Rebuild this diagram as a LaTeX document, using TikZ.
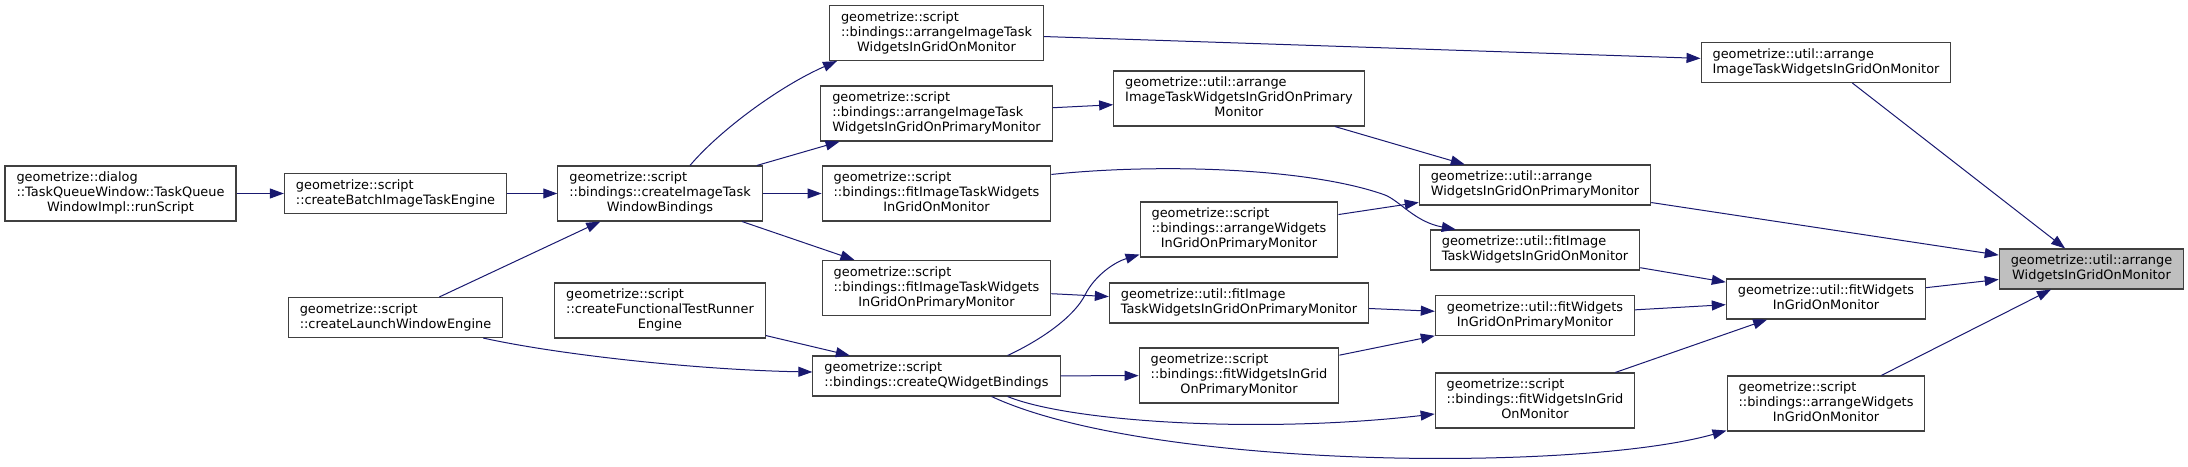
\documentclass[tikz,border=0pt]{standalone}
\usepackage{fontspec}
\setmainfont{DejaVu Sans}
\usetikzlibrary{arrows.meta,positioning,calc}
\definecolor{edgeblue}{HTML}{191970}
\definecolor{boxline}{HTML}{404040}
\definecolor{curfill}{HTML}{BFBFBF}
\newcommand{\fnlines}[2]{\begin{tabular}{@{}l@{}}#1\\\multicolumn{1}{@{}c@{}}{#2}\end{tabular}}
\tikzset{
  fnblk/.style={draw=boxline,fill=white,line width=1.1pt,rectangle,inner xsep=11.5pt,inner ysep=5pt,font=\fontsize{12.9}{15}\selectfont},
  curblk/.style={fnblk,fill=curfill},
  arr/.style={-{Triangle[length=14pt,width=10pt]},edgeblue,line width=1pt}
}
\begin{document}
\begin{tikzpicture}[x=1pt,y=1pt,on grid]
  \useasboundingbox (0,0) rectangle (2188,-466);
  \node[fnblk] (run) at (120.5,-193.5) {\fnlines{geometrize::dialog\\::TaskQueueWindow::TaskQueue}{WindowImpl::runScript}};
  \node[fnblk, right=275pt of run] (batch) {\fnlines{geometrize::script}{::createBatchImageTaskEngine}};
  \node[fnblk, below=124pt of batch] (launch) {\fnlines{geometrize::script}{::createLaunchWindowEngine}};
  \node[fnblk, right=264.5pt of batch] (bind) {\fnlines{geometrize::script\\::bindings::createImageTask}{WindowBindings}};
  \node[fnblk, below=117pt of bind] (ftest) {\fnlines{geometrize::script\\::createFunctionalTestRunner}{Engine}};
  \node[fnblk, right=276.5pt of bind] (sfitmon) {\fnlines{geometrize::script\\::bindings::fitImageTaskWidgets}{InGridOnMonitor}};
  \node[fnblk, above=80pt of sfitmon] (sarrpri) {\fnlines{geometrize::script\\::bindings::arrangeImageTask}{WidgetsInGridOnPrimaryMonitor}};
  \node[fnblk, above=80.5pt of sarrpri] (sarrmon) {\fnlines{geometrize::script\\::bindings::arrangeImageTask}{WidgetsInGridOnMonitor}};
  \node[fnblk, below=94.5pt of sfitmon] (sfitpri) {\fnlines{geometrize::script\\::bindings::fitImageTaskWidgets}{InGridOnPrimaryMonitor}};
  \node[fnblk, below=88pt of sfitpri] (qwid) {\fnlines{geometrize::script}{::bindings::createQWidgetBindings}};
  \node[fnblk, below right=36pt and 302.5pt of sfitmon] (sarrwpri) {\fnlines{geometrize::script\\::bindings::arrangeWidgets}{InGridOnPrimaryMonitor}};
  \node[fnblk, above=131pt of sarrwpri] (uarrpri) {\fnlines{geometrize::util::arrange\\ImageTaskWidgetsInGridOnPrimary}{Monitor}};
  \node[fnblk, below=73.5pt of sarrwpri] (ufitpri) {\fnlines{geometrize::util::fitImage}{TaskWidgetsInGridOnPrimaryMonitor}};
  \node[fnblk, below=72.5pt of ufitpri] (sfitwpri) {\fnlines{geometrize::script\\::bindings::fitWidgetsInGrid}{OnPrimaryMonitor}};
  \node[fnblk, above right=44.5pt and 296pt of sarrwpri] (uarrwpri) {\fnlines{geometrize::util::arrange}{WidgetsInGridOnPrimaryMonitor}};
  \node[fnblk, below=65pt of uarrwpri] (ufitmon) {\fnlines{geometrize::util::fitImage}{TaskWidgetsInGridOnMonitor}};
  \node[fnblk, below=65.5pt of ufitmon] (ufitwpri) {\fnlines{geometrize::util::fitWidgets}{InGridOnPrimaryMonitor}};
  \node[fnblk, below=85pt of ufitwpri] (sfitwmon) {\fnlines{geometrize::script\\::bindings::fitWidgetsInGrid}{OnMonitor}};
  \node[fnblk, above right=16.5pt and 291pt of ufitwpri] (ufitwmon) {\fnlines{geometrize::util::fitWidgets}{InGridOnMonitor}};
  \node[fnblk, above=236.5pt of ufitwmon] (uarrmon) {\fnlines{geometrize::util::arrange}{ImageTaskWidgetsInGridOnMonitor}};
  \node[fnblk, below=104.5pt of ufitwmon] (sarrwmon) {\fnlines{geometrize::script\\::bindings::arrangeWidgets}{InGridOnMonitor}};
  \node[curblk, above right=30pt and 265.5pt of ufitwmon] (target) {\fnlines{geometrize::util::arrange}{WidgetsInGridOnMonitor}};

  \draw[arr] (run) -- (batch);
  \draw[arr] (batch) -- (bind);
  \draw[arr] (launch) -- (bind);
  \draw[arr] ($(launch.south east)+(-20,0)$) .. controls (560,-355) and (700,-370) .. ($(qwid.west)+(0,4)$);
  \draw[arr] (ftest) -- (qwid);
  \draw[arr] ($(bind.north)+(30,0)$) .. controls (720,-130) and (780,-86) .. ($(sarrmon.south west)+(8,0)$);
  \draw[arr] (bind) -- (sarrpri);
  \draw[arr] (bind) -- (sfitmon);
  \draw[arr] (bind) -- (sfitpri);
  \draw[arr] (sarrmon) -- (uarrmon);
  \draw[arr] (sarrpri) -- (uarrpri);
  \draw[arr] (uarrpri) -- (uarrwpri);
  \draw[arr] ($(sfitmon.north east)+(0,-9)$) .. controls (1160,-163) and (1310,-168) .. (1385,-195) .. controls (1400,-201) and (1415,-222) .. ($(ufitmon.north west)+(26,0)$);
  \draw[arr] (sfitpri) -- (ufitpri);
  \draw[arr] ($(qwid.north east)+(-53,0)$) .. controls (1045,-338) and (1075,-315) .. (1085,-295) .. controls (1095,-275) and (1115,-262) .. ($(sarrwpri.south west)+(0,3)$);
  \draw[arr] (qwid) -- (sfitwpri);
  \draw[arr] ($(qwid.south east)+(-53,0)$) .. controls (1070,-422) and (1260,-434) .. ($(sfitwmon.west)+(0,-13.5)$);
  \draw[arr] ($(qwid.south east)+(-69,0)$) .. controls (1150,-470) and (1580,-472) .. ($(sarrwmon.south west)+(0,1)$);
  \draw[arr] (sarrwpri) -- (uarrwpri);
  \draw[arr] (ufitpri) -- (ufitwpri);
  \draw[arr] (sfitwpri) -- (ufitwpri);
  \draw[arr] (ufitmon) -- (ufitwmon);
  \draw[arr] (ufitwpri) -- (ufitwmon);
  \draw[arr] (sfitwmon) -- (ufitwmon);
  \draw[arr] (uarrmon) -- (target);
  \draw[arr] (uarrwpri) -- (target);
  \draw[arr] (ufitwmon) -- (target);
  \draw[arr] (sarrwmon) -- (target);
\end{tikzpicture}
\end{document}
